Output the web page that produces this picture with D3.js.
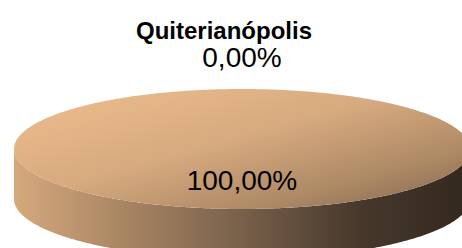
<!DOCTYPE html>
<html>
  <head>
    <meta charset="UTF-8" />
    <script src="https://cdnjs.cloudflare.com/ajax/libs/d3/7.8.5/d3.min.js"></script>
    <style>
      body { margin: 0; background: #fff; }
      text { font-family: "Liberation Sans", Arial, sans-serif; fill: #000; }
    </style>
  </head>
  <body>
    <svg id="chart" width="462" height="248"></svg>
    <script>
      // data
      let title = "Quiterianópolis";
      let categories = ["Fatia 1", "Fatia 2"];
      let values = [0, 100];

      let svg = d3.select("#chart");
      let cx = 242, cy = 149, rx = 228, ry = 60, depth = 50;

      let total = d3.sum(values);
      let fmt = v => d3.format(".2f")(v).replace(".", ",") + "%";

      let pie = d3.pie().sort(null).value(d => d.value);
      let slices = pie(categories.map((c, i) => ({ key: c, value: values[i] })));

      // angle -> point on ellipse (0 = top, clockwise)
      let pt = (a, k, dy) => [cx + rx * k * Math.sin(a), cy - ry * k * Math.cos(a) + (dy || 0)];

      let defs = svg.append("defs");
      let sideGrad = defs.append("linearGradient").attr("id", "sideGrad")
        .attr("gradientUnits", "userSpaceOnUse")
        .attr("x1", cx - rx).attr("x2", cx + rx).attr("y1", 0).attr("y2", 0);
      [[0, "#d6a97d"], [0.23, "#aa8764"], [0.5, "#78604a"], [0.76, "#46382b"], [1, "#33281f"]]
        .forEach(s => sideGrad.append("stop").attr("offset", s[0]).attr("stop-color", s[1]));

      let topGrad = defs.append("linearGradient").attr("id", "topGrad")
        .attr("x1", 0.1).attr("y1", 0.1).attr("x2", 1).attr("y2", 0.95);
      [[0, "#e9ba8b"], [0.4, "#d7aa7f"], [0.75, "#ad8965"], [1, "#846650"]]
        .forEach(s => topGrad.append("stop").attr("offset", s[0]).attr("stop-color", s[1]));

      let arcPoints = (a0, a1, k, dy) => {
        let n = Math.max(2, Math.ceil((a1 - a0) / 0.01));
        return d3.range(n + 1).map(i => pt(a0 + (a1 - a0) * i / n, k, dy));
      };

      let line = d3.line();
      let drawn = slices.filter(d => d.endAngle - d.startAngle > 0);

      // side walls (front half only)
      drawn.forEach(d => {
        let a0 = Math.max(d.startAngle, Math.PI / 2);
        let a1 = Math.min(d.endAngle, 3 * Math.PI / 2);
        if (a1 <= a0) return;
        let pts = arcPoints(a0, a1, 1, 0).concat(arcPoints(a0, a1, 1, depth).reverse());
        svg.append("path").attr("d", line(pts) + "Z").attr("fill", "url(#sideGrad)");
      });

      // top faces
      drawn.forEach(d => {
        let full = d.endAngle - d.startAngle >= 2 * Math.PI - 1e-9;
        let pts = arcPoints(d.startAngle, d.endAngle, 1, 0);
        if (!full) pts = [[cx, cy]].concat(pts);
        svg.append("path").attr("d", line(pts) + "Z").attr("fill", "url(#topGrad)");
      });

      // labels
      slices.forEach(d => {
        let mid = (d.startAngle + d.endAngle) / 2;
        let inside = d.value > 0;
        let p = pt(mid, inside ? 0.53 : 1.52, 0);
        svg.append("text")
          .attr("x", p[0]).attr("y", p[1])
          .attr("text-anchor", "middle")
          .attr("dominant-baseline", "central")
          .style("font-size", "28px")
          .text(fmt(d.value / total * 100));
      });

      svg.append("text")
        .attr("x", 224).attr("y", 39)
        .attr("text-anchor", "middle")
        .style("font-size", "24px").style("font-weight", "bold")
        .text(title);
    </script>
  </body>
</html>
